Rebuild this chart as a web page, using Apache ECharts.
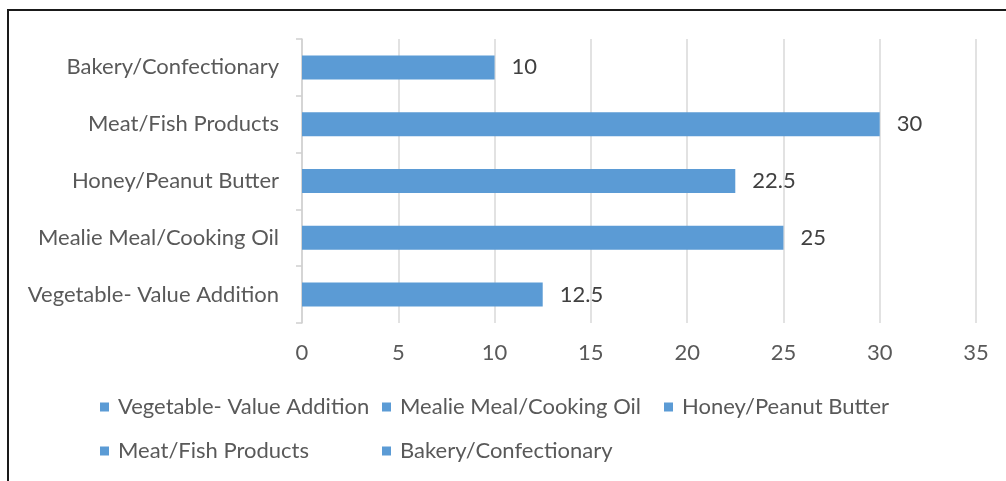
<!DOCTYPE html>
<html>
<head>
<meta charset="utf-8">
<script src="https://cdn.jsdelivr.net/npm/echarts@6/dist/echarts.min.js"></script>
<style>
  html, body { margin: 0; padding: 0; background: #fff; }
  #chart { width: 1006px; height: 481px; }
</style>
</head>
<body>
<div id="chart"></div>
<script>
// Product categories, listed bottom to top on the vertical axis
const categories = [
  'Vegetable- Value Addition',
  'Mealie Meal/Cooking Oil',
  'Honey/Peanut Butter',
  'Meat/Fish Products',
  'Bakery/Confectionary'
];
// Value for each category
const values = [12.5, 25, 22.5, 30, 10];
// Value axis range
const axisMin = 0;
const axisMax = 35;
const axisStep = 5;

const BAR_COLOR = '#5b9bd5';
const TEXT_COLOR = '#595959';
const FONT = 'Lato, "Open Sans", sans-serif';
const FONT_SIZE = 22;

// One series per category so each gets its own legend entry
const series = categories.map((name, i) => ({
  name: name,
  type: 'bar',
  stack: 'all',
  barWidth: 24,
  itemStyle: { color: BAR_COLOR },
  label: {
    show: true,
    position: 'right',
    distance: 17,
    color: '#404040',
    fontFamily: FONT,
    fontSize: FONT_SIZE
  },
  data: values.map((v, j) => (j === i ? v : '-'))
}));

// Legend laid out in fixed columns, two rows
const legendCols = [100, 382, 664];
const legendRows = [407, 451];
const legends = categories.map((name, i) => ({
  data: [name],
  left: legendCols[i % 3],
  top: legendRows[Math.floor(i / 3)] - 13,
  padding: 0,
  icon: 'rect',
  itemWidth: 9,
  itemHeight: 9,
  selectedMode: false,
  textStyle: {
    color: TEXT_COLOR,
    fontFamily: FONT,
    fontSize: FONT_SIZE,
    lineHeight: 26,
    padding: [0, 0, 0, 4]
  }
}));

const chart = echarts.init(document.getElementById('chart'), null, { renderer: 'canvas' });
chart.setOption({
  animation: false,
  backgroundColor: '#ffffff',
  grid: { left: 302, right: 30, top: 39, bottom: 158, containLabel: false },
  legend: legends,
  xAxis: {
    type: 'value',
    min: axisMin,
    max: axisMax,
    interval: axisStep,
    axisLine: { show: false },
    axisTick: { show: false },
    axisLabel: { color: TEXT_COLOR, fontFamily: FONT, fontSize: FONT_SIZE, margin: 19 },
    splitLine: { show: true, lineStyle: { color: '#d9d9d9', width: 1.5 } }
  },
  yAxis: {
    type: 'category',
    data: categories,
    axisLine: { show: true, lineStyle: { color: '#d0d0d0', width: 1.5 } },
    axisTick: { show: true, length: 6, lineStyle: { color: '#d0d0d0', width: 1.5 } },
    axisLabel: { color: TEXT_COLOR, fontFamily: FONT, fontSize: FONT_SIZE, margin: 23 },
    splitLine: { show: false }
  },
  series: series,
  graphic: [
    {
      type: 'polyline',
      silent: true,
      shape: { points: [[8, 481], [8, 10], [1006, 10]] },
      style: { stroke: '#1a1a1a', lineWidth: 2, fill: null }
    }
  ]
});
</script>
</body>
</html>
